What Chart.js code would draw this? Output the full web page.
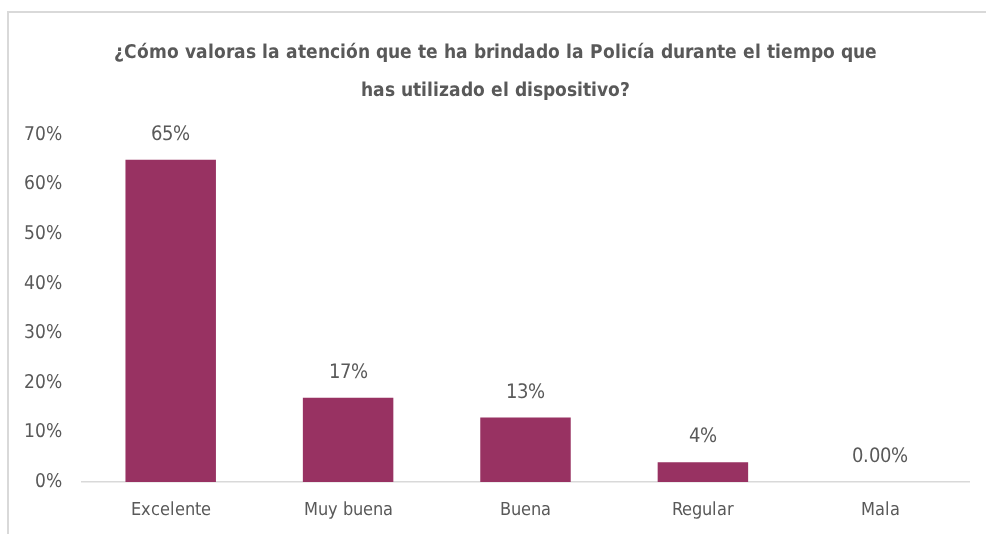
<!DOCTYPE html>
<html lang="es">
<head>
<meta charset="utf-8">
<title>Atención de la Policía</title>
<script src="https://cdn.jsdelivr.net/npm/chart.js@4"></script>
<style>
  @font-face {
    font-family: 'Narrow';
    src: local('Liberation Sans Narrow'), local('LiberationSansNarrow'),
         local('DejaVu Sans Condensed'), local('DejaVuSansCondensed');
    font-weight: 400;
  }
  @font-face {
    font-family: 'Narrow';
    src: local('Liberation Sans Narrow Bold'), local('LiberationSansNarrow-Bold'),
         local('DejaVu Sans Condensed Bold'), local('DejaVuSansCondensed-Bold');
    font-weight: 700;
  }
  html, body { margin: 0; padding: 0; background: #fff; overflow: hidden; }
  #frame {
    position: absolute; left: 7px; top: 11px; width: 1000px; height: 600px;
    border-left: 2px solid #d9d9d9; border-top: 2px solid #d9d9d9;
  }
  #chart { position: absolute; left: 0; top: 0; }
</style>
</head>
<body>
<div id="frame"></div>
<canvas id="chart" width="986" height="534"></canvas>
<script>
const categories = ['Excelente', 'Muy buena', 'Buena', 'Regular', 'Mala'];
const percentages = [65, 17, 13, 4, 0];
const valueLabels = ['65%', '17%', '13%', '4%', '0.00%'];
const yTicks = [0, 10, 20, 30, 40, 50, 60, 70];

const titleLines = [
    '¿Cómo valoras la atención que te ha brindado la Policía durante el tiempo que',
    'has utilizado el dispositivo?'
];

const narrow = "Narrow, 'DejaVu Sans', sans-serif";
const grey = '#595959';

// writes the value above every bar
const barValues = {
    id: 'barValues',
    afterDatasetsDraw(chart) {
        const ctx = chart.ctx;
        const bars = chart.getDatasetMeta(0).data;
        ctx.save();
        ctx.font = '20px ' + narrow;
        ctx.fillStyle = grey;
        ctx.textAlign = 'center';
        ctx.textBaseline = 'bottom';
        bars.forEach((bar, i) => {
            ctx.fillText(valueLabels[i], bar.x, bar.y - 15);
        });
        ctx.restore();
    }
};

function drawChart() {
    const ctx = document.getElementById('chart').getContext('2d');
    new Chart(ctx, {
        type: 'bar',
        data: {
            labels: categories,
            datasets: [{
                data: percentages,
                backgroundColor: '#983262',
                borderWidth: 0,
                barPercentage: 0.51,
                categoryPercentage: 1
            }]
        },
        options: {
            responsive: false,
            animation: false,
            layout: { padding: { left: 22, right: 17, top: 0, bottom: 0 } },
            plugins: {
                legend: { display: false },
                tooltip: { enabled: false },
                title: {
                    display: true,
                    text: titleLines,
                    color: grey,
                    font: { family: narrow, size: 19, weight: 'bold', lineHeight: 2 },
                    padding: { top: 34, bottom: 25 }
                }
            },
            scales: {
                x: {
                    grid: { display: false, drawTicks: false },
                    border: { display: true, color: '#d9d9d9', width: 1.5 },
                    ticks: { color: grey, font: { family: narrow, size: 17.5 }, padding: 18 },
                    afterFit(scale) { scale.height = 52; }
                },
                y: {
                    min: 0,
                    max: 70,
                    grid: { display: false, drawTicks: false },
                    border: { display: false },
                    afterBuildTicks(scale) {
                        scale.ticks = yTicks.map(v => ({ value: v }));
                    },
                    ticks: {
                        color: grey,
                        font: { family: narrow, size: 18.5 },
                        padding: 20,
                        callback: v => v + '%'
                    },
                    afterFit(scale) { scale.width = 60; }
                }
            }
        },
        plugins: [barValues]
    });
}

Promise.all([
    document.fonts.load('20px Narrow'),
    document.fonts.load('bold 20px Narrow')
]).then(drawChart, drawChart);
</script>
</body>
</html>
